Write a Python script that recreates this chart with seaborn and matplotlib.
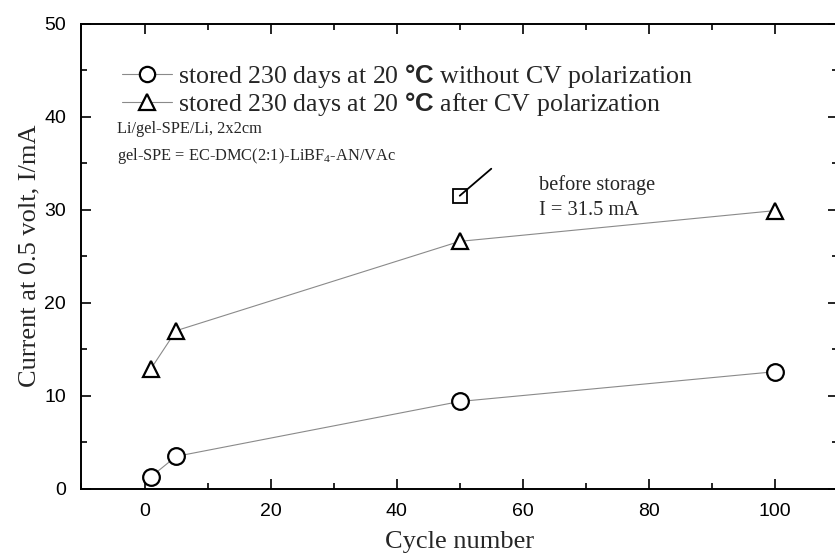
import matplotlib
matplotlib.use("Agg")
import matplotlib.pyplot as plt
from matplotlib.ticker import MultipleLocator
import seaborn as sns
import pandas as pd

# Measured currents at 0.5 V vs. cycle number
cycles = [1, 5, 50, 100]
current_without_cv = [1.3, 3.5, 9.4, 12.6]
current_after_cv = [12.9, 17.0, 26.6, 29.9]
before_storage_cycle = 50
before_storage_current = 31.5

label_without = r"stored 230 days at 20 $\mathsf{°C}$ without CV polarization"
label_after = r"stored 230 days at 20 $\mathsf{°C}$ after CV polarization"

sns.set_theme(style="ticks")
plt.rcParams["font.family"] = ["Liberation Serif", "DejaVu Serif"]
plt.rcParams["mathtext.fontset"] = "custom"
plt.rcParams["mathtext.rm"] = "Liberation Serif"
plt.rcParams["mathtext.it"] = "Liberation Serif:italic"
plt.rcParams["mathtext.sf"] = "Liberation Sans:bold"

df = pd.DataFrame({
    "cycle": cycles * 2,
    "current": current_without_cv + current_after_cv,
    "series": [label_without] * len(cycles) + [label_after] * len(cycles),
})

fig = plt.figure(figsize=(8.35, 5.57), dpi=100)
ax = fig.add_axes([0.0976, 0.1221, 0.906, 0.8357])

sns.lineplot(
    data=df, x="cycle", y="current", hue="series", style="series",
    markers={label_without: "o", label_after: "^"},
    dashes=False,
    palette={label_without: "#8a8a8a", label_after: "#8a8a8a"},
    linewidth=0.8, markersize=12, markerfacecolor="white",
    markeredgecolor="black", markeredgewidth=1.6,
    ax=ax, legend=True,
)

# Reference point measured before storage
ax.plot([before_storage_cycle], [before_storage_current], marker="s",
        markersize=9.5, markerfacecolor="white", markeredgecolor="black",
        markeredgewidth=1.3, linestyle="none")
ax.annotate("", xy=(before_storage_cycle, before_storage_current),
            xytext=(55.0, 34.4),
            arrowprops=dict(arrowstyle="-", color="black", lw=1.3,
                            shrinkA=0, shrinkB=0))
ax.text(62.5, 32.6, "before storage", fontsize=14.7, va="center", ha="left")
ax.text(62.5, 29.9, "I = 31.5 mA", fontsize=14.7, va="center", ha="left")

ax.text(-4.3, 38.7, "Li/gel-SPE/Li, 2x2cm", fontsize=11.8, va="center", ha="left")
ax.text(-4.3, 35.8, r"gel-SPE = EC-DMC(2:1)-LiBF$_{4}$-AN/VAc", fontsize=11.8,
        va="center", ha="left")

ax.set_xlim(-10, 110)
ax.set_ylim(0, 50)
ax.xaxis.set_major_locator(MultipleLocator(20))
ax.xaxis.set_minor_locator(MultipleLocator(10))
ax.yaxis.set_major_locator(MultipleLocator(10))
ax.yaxis.set_minor_locator(MultipleLocator(5))
ax.tick_params(which="both", direction="in", top=True, right=True,
               width=1.2, colors="black")
ax.tick_params(which="major", length=7, labelsize=14)
ax.tick_params(which="minor", length=4)
ax.tick_params(axis="x", which="major", pad=10)
ax.tick_params(axis="y", which="major", pad=11)
for lab in ax.get_xticklabels() + ax.get_yticklabels():
    lab.set_fontfamily(["Liberation Sans", "DejaVu Sans"])

for sp in ax.spines.values():
    sp.set_linewidth(1.4)
    sp.set_color("black")

ax.set_xlabel("Cycle number", fontsize=19, labelpad=8)
ax.set_ylabel("Current at 0.5 volt, I/mA", fontsize=19, labelpad=3)

leg = ax.legend(loc="upper left", bbox_to_anchor=(0.0535, 0.917),
                frameon=False, fontsize=18.6, handlelength=1.95,
                handletextpad=0.22, labelspacing=0.0, borderaxespad=0,
                borderpad=0)
for h in leg.legend_handles:
    h.set_markersize(11)

fig.savefig("out.png", dpi=100)
